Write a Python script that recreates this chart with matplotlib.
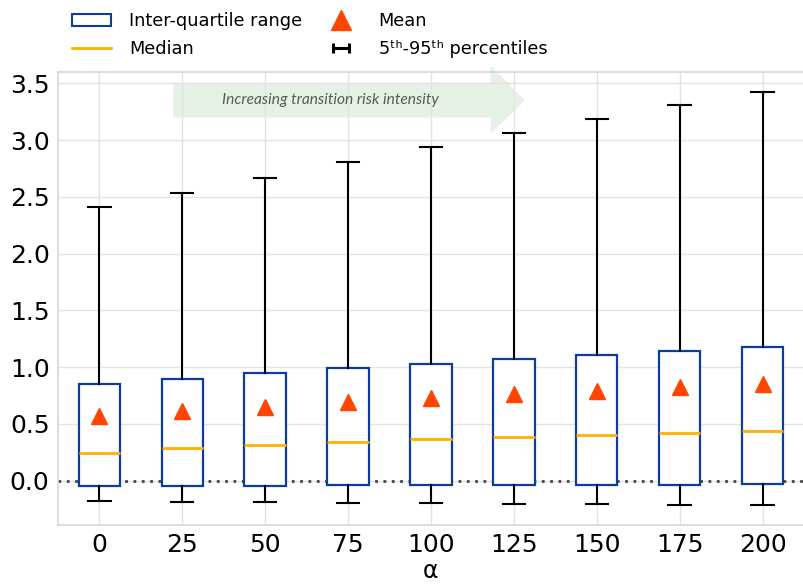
import matplotlib
matplotlib.use("Agg")
import matplotlib.pyplot as plt
from matplotlib.lines import Line2D
from matplotlib.patches import Patch, Polygon
from matplotlib.path import Path

# alpha values and the box statistics
alphas = ["0", "25", "50", "75", "100", "125", "150", "175", "200"]
p5 = [-0.179, -0.185, -0.188, -0.194, -0.197, -0.203, -0.205, -0.210, -0.214]
q1 = [-0.047, -0.047, -0.045, -0.041, -0.041, -0.038, -0.038, -0.035, -0.032]
medians = [0.247, 0.286, 0.315, 0.344, 0.365, 0.385, 0.406, 0.420, 0.435]
q3 = [0.85, 0.897, 0.947, 0.991, 1.03, 1.07, 1.11, 1.14, 1.175]
p95 = [2.41, 2.53, 2.665, 2.805, 2.94, 3.065, 3.185, 3.305, 3.42]
means = [0.573, 0.617, 0.653, 0.691, 0.727, 0.765, 0.794, 0.829, 0.853]

box_col = "#0a3d9e"
med_col = "#ffb000"
mean_col = "#ff4500"

fig = plt.figure(figsize=(8.04, 5.85), dpi=100)
ax = fig.add_axes([0.072, 0.1026, 0.928, 0.7744])

stats = []
for i in range(len(alphas)):
    stats.append(dict(med=medians[i], q1=q1[i], q3=q3[i], whislo=p5[i],
                      whishi=p95[i], mean=means[i], fliers=[]))

ax.bxp(stats, positions=range(len(alphas)), widths=0.5, capwidths=0.27,
       showmeans=True, showfliers=False, patch_artist=True,
       boxprops=dict(facecolor="white", edgecolor=box_col, linewidth=1.6),
       medianprops=dict(color=med_col, linewidth=2),
       whiskerprops=dict(color="black", linewidth=1.5),
       capprops=dict(color="black", linewidth=1.5),
       meanprops=dict(marker="^", markerfacecolor=mean_col,
                      markeredgecolor=mean_col, markersize=11))

ax.axhline(0, color="#444444", linestyle=(0, (1, 2)), linewidth=2, zorder=1)

ax.set_xlim(-0.5, 8.5)
ax.set_ylim(-0.39, 3.6)
ax.set_xticks(range(len(alphas)))
ax.set_xticklabels(alphas)
ax.set_yticks([0, 0.5, 1.0, 1.5, 2.0, 2.5, 3.0, 3.5])
ax.tick_params(labelsize=18, length=0, pad=6)
ax.grid(True, color="#e3e3e3", linewidth=1)
ax.set_axisbelow(True)
for s in ax.spines.values():
    s.set_color("#d6d6d6")
    s.set_linewidth(1.2)
ax.set_xlabel("α", fontsize=17, labelpad=1)

# arrow
arrow = Polygon([(0.89, 3.198), (4.72, 3.198), (4.72, 3.057), (5.13, 3.35),
                 (4.72, 3.657), (4.72, 3.504), (0.89, 3.504)],
                closed=True, facecolor="#e6f1e6", edgecolor="none",
                zorder=0.3, clip_on=False)
ax.add_patch(arrow)
ax.text(2.79, 3.35, "Increasing transition risk intensity", ha="center",
        va="center", fontsize=11.2, style="italic", color="#595959",
        family="Lato", zorder=3)

# legend
cap_marker = Path([(-1, 0), (1, 0), (-1, -0.6), (-1, 0.6), (1, -0.6), (1, 0.6)],
                  [Path.MOVETO, Path.LINETO, Path.MOVETO, Path.LINETO,
                   Path.MOVETO, Path.LINETO])
handles = [
    Patch(facecolor="white", edgecolor=box_col, linewidth=1.5),
    Line2D([], [], color=med_col, linewidth=2),
    Line2D([], [], marker="^", linestyle="none", color=mean_col, markersize=15),
    Line2D([], [], marker=cap_marker, linestyle="none", color="black",
           markersize=11, markeredgewidth=2.2),
]
labels = ["Inter-quartile range", "Median", "Mean", "5ᵗʰ-95ᵗʰ percentiles"]
fig.legend(handles, labels, loc="upper left", bbox_to_anchor=(0.07, 1.006),
           ncol=2, frameon=False, fontsize=12.8, handlelength=2.2,
           handletextpad=1.0, columnspacing=1.1, labelspacing=0.55)

fig.savefig("out.png", dpi=100)
